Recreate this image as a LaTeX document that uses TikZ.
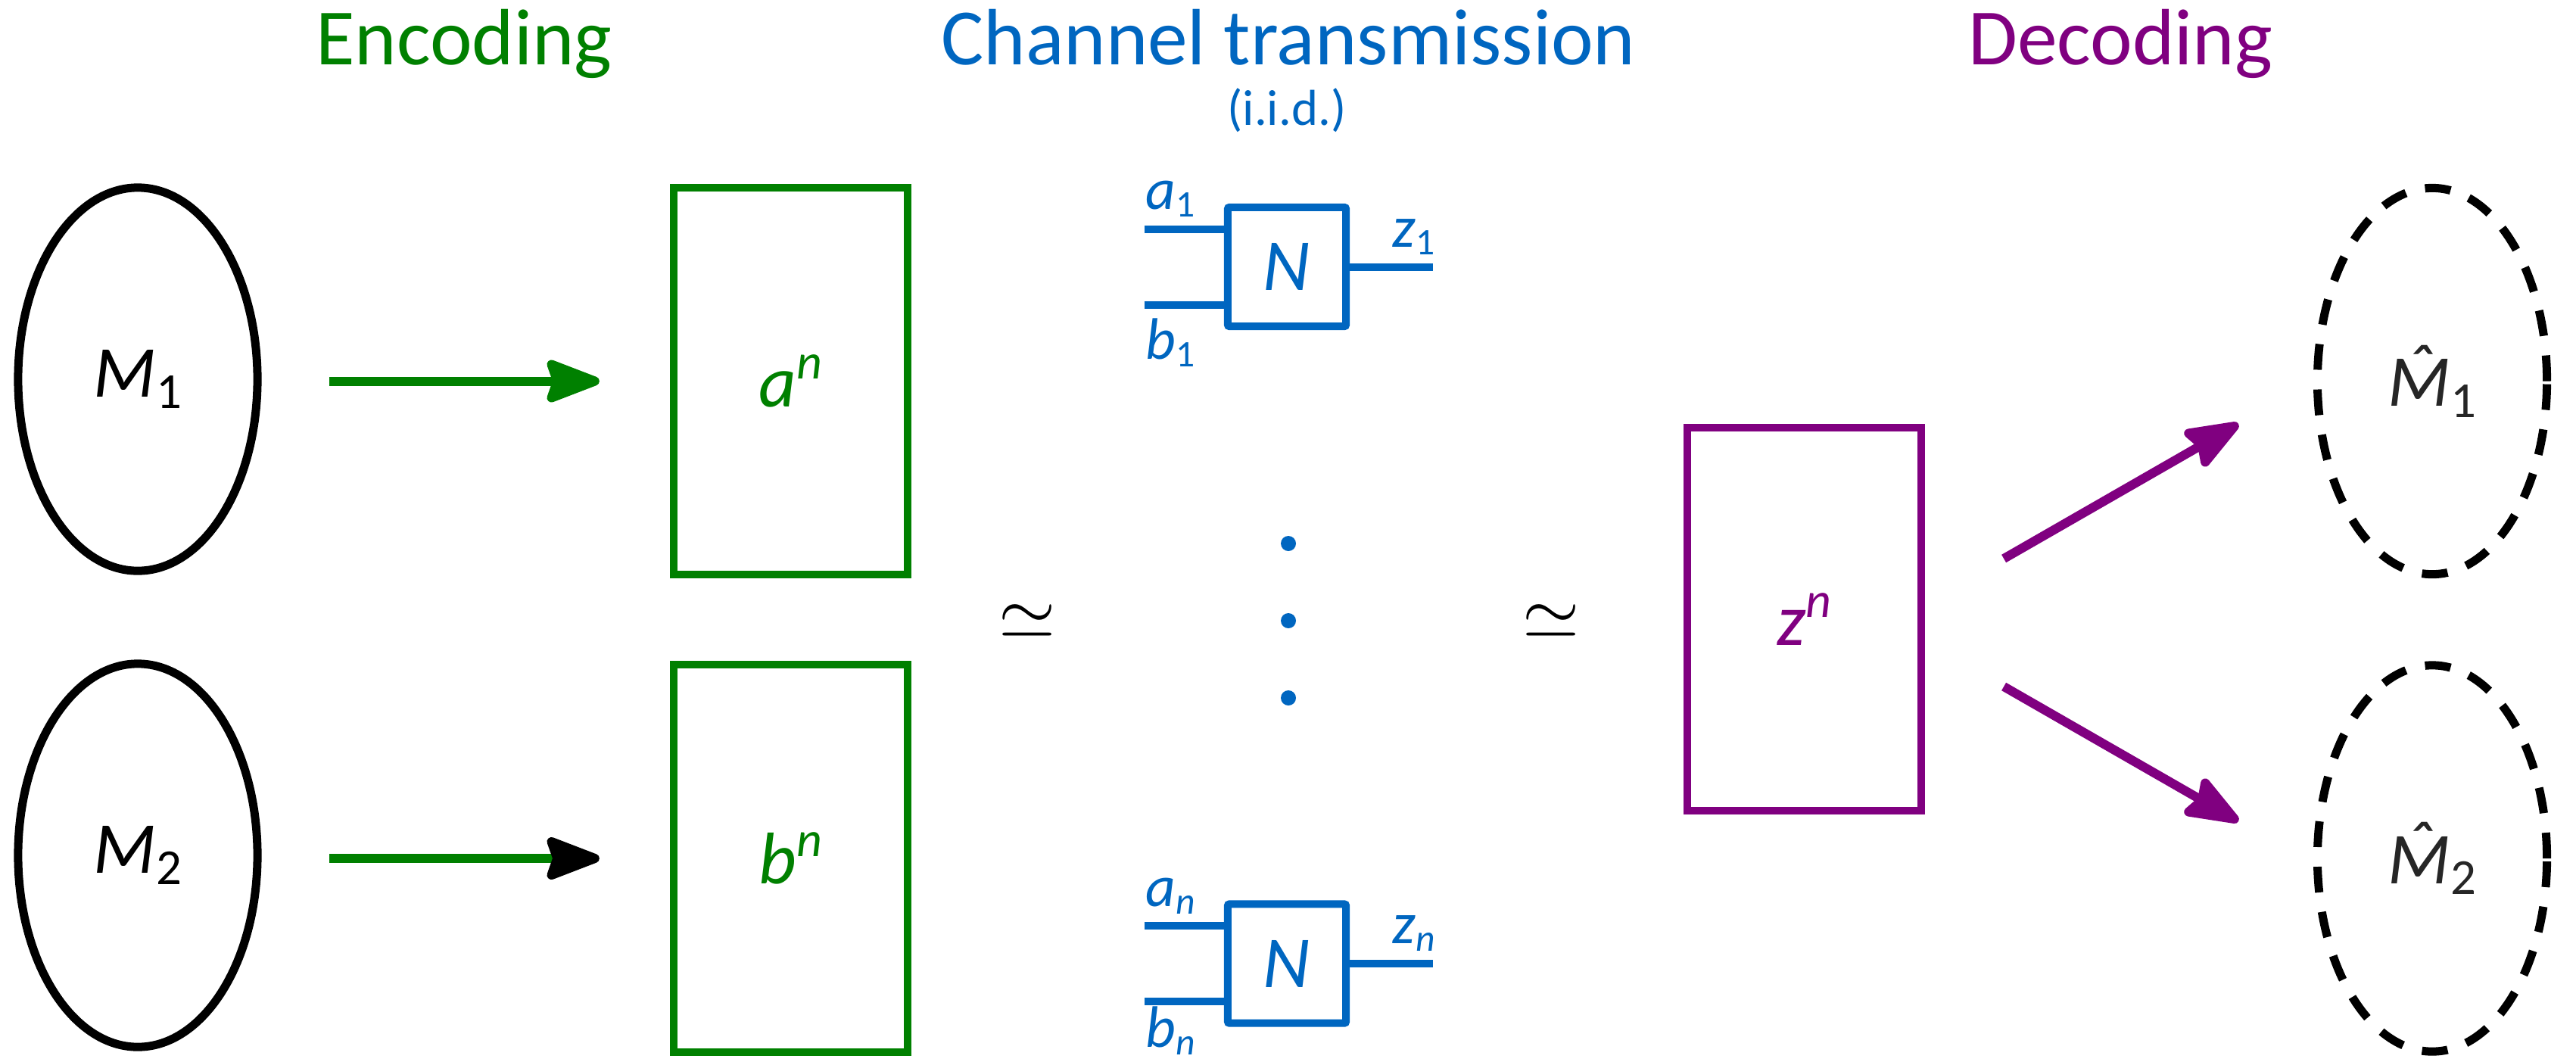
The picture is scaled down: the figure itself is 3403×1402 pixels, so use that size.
\documentclass[tikz,border=0pt]{standalone}
\usepackage{fontspec}
\setmainfont{Carlito}
\usepackage{graphicx}
\usetikzlibrary{arrows.meta,calc,shapes.geometric}
\definecolor{encg}{RGB}{0,128,0}
\definecolor{chb}{RGB}{0,102,192}
\definecolor{decp}{RGB}{128,0,128}
\definecolor{hatgray}{RGB}{38,38,38}
\newcommand{\bigsub}[2]{\textit{#1}\raisebox{-0.15em}{\scalebox{0.69}{#2}}}
\newcommand{\bigsup}[2]{\textit{#1}\raisebox{0.38em}{\scalebox{0.68}{\textit{#2}}}}
\newcommand{\smsub}[2]{\textit{#1}\raisebox{-0.14em}{\scalebox{0.64}{#2}}}
\newcommand{\hatM}{\textit{\accent"02C6 M}}
\begin{document}
\begin{tikzpicture}[x=0.01cm,y=-0.01cm,
  title/.style={font=\fontsize{30}{36}\selectfont, anchor=base, inner sep=0pt},
  msgnode/.style={ellipse, draw=black, line width=0.11cm, minimum width=3.16cm, minimum height=5.06cm, inner sep=0pt, font=\fontsize{27.5}{33}\selectfont},
  estnode/.style={msgnode, dash pattern=on 0.34cm off 0.26cm, minimum width=3.03cm, minimum height=5.10cm, text=hatgray},
  seqbox/.style={rectangle, line width=0.1cm, minimum width=3.09cm, minimum height=5.11cm, inner sep=0pt, font=\fontsize{27.5}{33}\selectfont},
  chanbox/.style={rectangle, draw=chb, line width=0.1cm, minimum width=1.56cm, minimum height=1.57cm, rounded corners=0.02cm, text=chb, inner sep=0pt, font=\fontsize{27.5}{33}\selectfont\itshape},
  wire/.style={draw=chb, line width=0.1cm},
  wlab/.style={text=chb, anchor=base west, inner sep=0pt, font=\fontsize{22}{26}\selectfont},
  simnode/.style={inner sep=0pt},
  dotnode/.style={circle, fill=chb, minimum size=0.2cm, inner sep=0pt},
  arr/.style={line width=0.12cm, -{Stealth[length=0.83cm, width=0.62cm, inset=0.1cm, round]}}
]
\useasboundingbox (0,0) rectangle (3403,1402);

% titles
\node[title, text=encg] (tenc) at (613,85) {Encoding};
\node[title, text=chb] (tch) at (1702,85) {Channel transmission};
\node[title, text=chb, font=\fontsize{19}{23}\selectfont] (tiid) at (1700,165) {(i.i.d.)};
\node[title, text=decp] (tdec) at (2801,85) {Decoding};

% messages
\node[msgnode] (M1) at (182,501) {\bigsub{M}{1}};
\node[msgnode] (M2) at (182,1130) {\bigsub{M}{2}};

% codewords
\node[seqbox, draw=encg, text=encg] (an) at (1044.5,503.5) {\bigsup{a}{n}};
\node[seqbox, draw=encg, text=encg] (bn) at (1044.5,1134) {\bigsup{b}{n}};

% encoding arrows
\draw[arr, encg, shorten <=0.895cm, shorten >=0.93cm] (M1.east |- an) -- (an.west);
\draw[line width=0.12cm, encg, shorten <=0.895cm, shorten >=0.93cm,
  -{Stealth[length=0.83cm, width=0.62cm, inset=0.1cm, round, color=black, fill=black]}] (M2.east |- bn) -- (bn.west);

% approx symbols
\node[simnode] (eq1) at (1357,821) {\scalebox{2.75}{$\simeq$}};
\node[simnode] (eq2) at (2049,821) {\scalebox{2.75}{$\simeq$}};

% channel uses
\node[chanbox] (N1) at (1700,352.5) {N};
\node[chanbox] (Nn) at (1700,1273) {N};

\coordinate (wa1) at ($(N1.west)+(-105,-50)$);
\coordinate (wb1) at ($(N1.west)+(-105,50)$);
\coordinate (wz1) at ($(N1.east)+(110,0)$);
\draw[wire] (wa1) -- (wa1 -| N1.west);
\draw[wire] (wb1) -- (wb1 -| N1.west);
\draw[wire] (N1.east) -- (wz1);

\coordinate (wan) at ($(Nn.west)+(-105,-50)$);
\coordinate (wbn) at ($(Nn.west)+(-105,50)$);
\coordinate (wzn) at ($(Nn.east)+(110,0)$);
\draw[wire] (wan) -- (wan -| Nn.west);
\draw[wire] (wbn) -- (wbn -| Nn.west);
\draw[wire] (Nn.east) -- (wzn);

\node[wlab] (la1) at ($(N1.center)+(-187,-76.5)$) {\smsub{a}{1}};
\node[wlab] (lb1) at ($(N1.center)+(-187,121.5)$) {\smsub{b}{1}};
\node[wlab] (lz1) at ($(N1.center)+(139,-26.5)$) {\smsub{z}{1}};
\node[wlab] (lan) at ($(Nn.center)+(-187,-76)$) {\smsub{a}{\textit{n}}};
\node[wlab] (lbn) at ($(Nn.center)+(-187,110)$) {\smsub{b}{\textit{n}}};
\node[wlab] (lzn) at ($(Nn.center)+(139,-27)$) {\smsub{z}{\textit{n}}};

% vertical dots
\node[dotnode] (v1) at (1702,718) {};
\node[dotnode] (v2) at (1702,820) {};
\node[dotnode] (v3) at (1702,922) {};

% channel output
\node[seqbox, draw=decp, text=decp, minimum height=5.06cm] (zn) at (2383.5,818) {\bigsup{z}{n}};

% estimates
\node[estnode] (E1) at (3213,503.5) {\bigsub{\hatM}{1}};
\node[estnode] (E2) at (3213,1134) {\bigsub{\hatM}{2}};

% decoding arrows
\coordinate (d1s) at ($(zn.east)+(104,-80)$);
\coordinate (d1e) at ($(zn.east)+(414,-258)$);
\coordinate (d2s) at ($(zn.east)+(104,89)$);
\coordinate (d2e) at ($(zn.east)+(414,267)$);
\draw[arr, decp] (d1s) -- (d1e);
\draw[arr, decp] (d2s) -- (d2e);
\end{tikzpicture}
\end{document}
